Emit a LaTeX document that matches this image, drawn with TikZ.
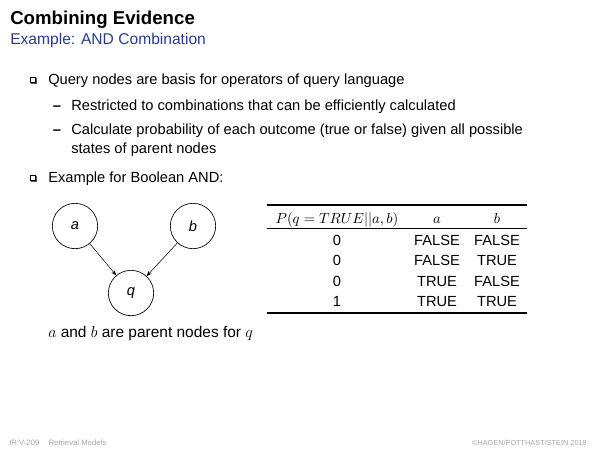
\documentclass[tikz,border=0pt]{standalone}
\usepackage{fontspec}
\setmainfont{Liberation Sans}
\usetikzlibrary{arrows.meta, positioning}
\definecolor{subblue}{RGB}{40,60,140}
\definecolor{footgray}{RGB}{165,165,165}
\tikzset{
  txt/.style={anchor=base west, inner sep=0pt, font=\fontsize{11}{13}\selectfont},
  cell/.style={anchor=base, inner sep=0pt, font=\fontsize{11}{13}\selectfont},
  vnode/.style={circle, draw, line width=0.5pt, minimum size=34pt, inner sep=0pt, font=\fontsize{11}{13}\selectfont\itshape},
  edge/.style={-{Stealth[length=4pt, width=3pt]}, line width=0.4pt},
  sqbullet/.style={draw, line width=0.4pt, fill=white, inner sep=0pt, minimum size=4pt},
}
\begin{document}
\begin{tikzpicture}[x=0.75pt, y=-0.75pt]
        \useasboundingbox (0,0) rectangle (600,450);
        % heading
        \node[anchor=base west, inner sep=0pt, font=\fontsize{14}{16}\selectfont\bfseries] (title) at (10,24) {Combining Evidence};
        \node[anchor=base west, inner sep=0pt, text=subblue, font=\fontsize{11.7}{14}\selectfont] (subtitle) at (10,44) {Example: AND Combination};
        % bullets
        \fill[gray!70!black] (30.5,77.5) rectangle (36.5,83.5);
        \node[sqbullet] (b1) at (32.5,79.5) {};
        \node[txt] (l1) at (48,84) {Query nodes are basis for operators of query language};
        \node[cell, font=\fontsize{11}{13}\selectfont\bfseries] (d1) at (57,110) {--};
        \node[txt] (l2) at (71,110) {Restricted to combinations that can be efficiently calculated};
        \node[cell, font=\fontsize{11}{13}\selectfont\bfseries] (d2) at (57,134) {--};
        \node[txt] (l3) at (71,134) {Calculate probability of each outcome (true or false) given all possible};
        \node[txt] (l3b) at (71,153) {states of parent nodes};
        \fill[gray!70!black] (30.5,175.5) rectangle (36.5,181.5);
        \node[sqbullet] (b2) at (32.5,177.5) {};
        \node[txt] (l4) at (48,182) {Example for Boolean AND:};
        % network
        \node[vnode] (a) at (75,226) {a};
        \node[vnode] (b) at (193,226) {b};
        \node[vnode] (q) at (131,293) {q};
        \draw[edge] (a) -- (q);
        \draw[edge] (b) -- (q);
        \node[txt, font=\fontsize{11.6}{14}\selectfont] (cap) at (48,337) {$a$ and $b$ are parent nodes for $q$};
        % truth table
        \draw[line width=1pt] (267,205) -- (527,205);
        \draw[line width=0.6pt] (267,228) -- (527,228);
        \draw[line width=1pt] (267,313) -- (527,313);
        \node[cell] (h1) at (337,223) {$P(q=TRUE||a,b)$};
        \node[cell] (h2) at (437,223) {$a$};
        \node[cell] (h3) at (497,223) {$b$};
        \foreach \p/\x/\y [count=\i] in {0/FALSE/FALSE, 0/FALSE/TRUE, 0/TRUE/FALSE, 1/TRUE/TRUE} {
            \node[cell] (p\i) at (337,224.5+20.5*\i) {\p};
            \node[cell] (x\i) at (437,224.5+20.5*\i) {\x};
            \node[cell] (y\i) at (497,224.5+20.5*\i) {\y};
        }
        % footer
        \node[anchor=base west, inner sep=0pt, text=footgray, font=\fontsize{5.8}{7}\selectfont] (fl) at (9,445) {IR:V-209\hspace{1.2em}Retrieval Models};
        \node[anchor=base east, inner sep=0pt, text=footgray, font=\fontsize{5.5}{7}\selectfont] (fr) at (587,445) {\copyright HAGEN/POTTHAST/STEIN 2018};
    \end{tikzpicture}
\end{document}
